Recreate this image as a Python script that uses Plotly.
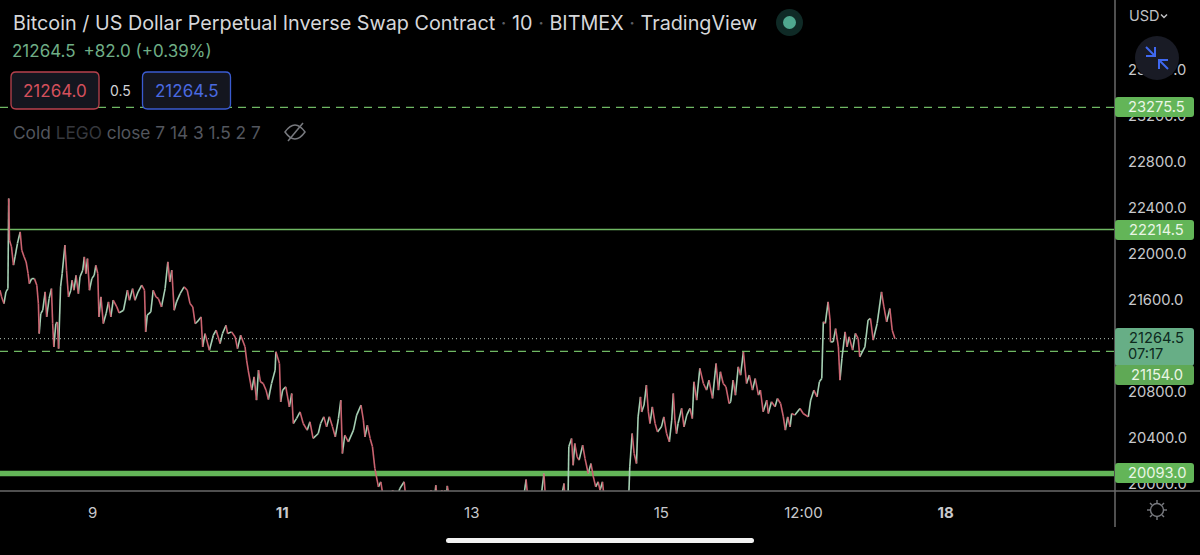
import pandas as pd
import plotly.graph_objects as go

ORIGIN = "2022-07-08 00:00"
# hours since ORIGIN and price
PATH_HOURS = [0.5,0.9,1.5,2.0,2.5,2.7,2.9,3.4,3.9,4.3,4.9,5.6,6.0,6.6,7.1,7.6,7.9,8.5,9.2,9.8,10.2,10.4,10.8,11.3,11.9,12.3,12.9,13.5,13.8,14.1,14.6,15.0,15.3,15.8,16.2,16.9,17.3,17.8,18.4,18.7,19.2,19.7,20.3,20.7,21.4,21.8,22.2,22.6,23.1,23.7,24.3,24.7,25.2,25.5,26.0,26.6,27.3,27.9,28.5,29.1,30.0,30.6,31.7,32.7,33.2,34.0,34.6,35.4,36.3,37.0,37.3,37.7,38.6,39.2,39.9,40.5,41.3,42.2,42.9,43.4,43.9,44.5,45.1,46.0,47.0,47.8,48.5,49.2,49.8,50.3,51.3,51.7,52.3,53.4,54.4,55.1,56.1,56.7,57.6,58.0,59.0,59.9,60.5,61.3,62.4,
62.8,63.2,64.1,64.7,65.3,65.8,66.3,67.0,67.7,68.3,69.1,70.0,70.2,71.1,71.4,71.9,72.7,73.6,74.2,74.6,75.4,76.3,77.1,78.1,78.8,79.6,80.9,81.5,82.3,83.0,83.7,84.5,85.2,86.0,86.6,87.0,87.6,88.5,89.8,90.6,91.7,92.3,92.7,93.3,94.0,94.6,95.2,96.1,96.7,97.3,98.2,99.0,99.7,100.3,101.5,102.6,103.1,104.1,106.6,108.7,109.4,110.0,110.6,111.2,112.1,112.5,112.9,113.2,113.5,114.2,118.0,123.0,129.3,132.7,133.4,133.9,136.9,137.9,138.4,142.0,143.0,143.3,144.0,144.2,144.9,145.3,145.7,146.3,146.8,147.7,148.3,149.1,149.8,150.4,151.0,151.6,152.1,152.7,153.1,154.2,158.4,159.4,159.6,160.2,160.7,161.3,161.7,162.3,162.6,163.2,163.8,164.3,164.7,165.3,166.0,166.6,167.6,168.2,168.9,169.6,170.2,170.6,171.0,171.4,171.8,172.7,173.3,174.0,174.8,175.4,175.8,176.5,177.3,178.2,179.0,179.6,180.5,181.4,182.0,182.5,183.2,183.9,184.7,185.1,185.7,186.3,187.0,187.6,188.3,
189.1,189.8,190.6,191.3,192.1,192.6,193.3,194.2,194.6,195.4,196.3,196.9,197.7,198.4,198.9,199.5,200.1,200.5,201.3,202.6,203.4,204.7,205.3,206.1,206.9,207.5,208.1,208.5,209.0,209.7,210.2,210.3,211.0,211.6,212.3,212.7,213.2,214.0,214.5,215.0,215.9,216.6,217.3,217.7,219.0,219.8,220.4,221.1,222.1,223.2,223.8,224.5,225.3,225.9,226.6]
PATH_PRICES = [21686,21628,21570,21672,21700,22484,22121,22063,21904,21976,22092,22194,22034,21976,21932,21831,21744,21787,21787,21729,21570,21309,21483,21512,21672,21454,21614,21700,21396,21193,21396,21410,21178,21715,21831,22078,21860,21628,21686,21773,21686,21816,21657,21802,21860,21976,21831,21961,21686,21787,21816,21903,21831,21454,21628,21396,21483,21584,21454,21599,21541,21489,21512,21686,21599,21700,21599,21672,21730,21686,21324,21469,21498,21686,21628,21614,21541,21700,21933,21758,21860,21512,21585,21657,21715,21686,21570,21541,21396,21410,21454,21193,21309,21164,21295,21338,21222,21309,21381,21309,21324,21280,21178,21295,21194,
21078,20991,20817,20933,20730,20991,20890,20875,20817,20736,20875,20991,21151,21049,20716,20817,20846,20672,20788,20527,20570,20628,20527,20469,20542,20397,20440,20527,20585,20498,20585,20498,20411,20570,20730,20266,20425,20367,20469,20600,20687,20556,20411,20512,20397,20324,20136,19976,20020,19889,19744,19802,19947,19831,19961,20020,19860,19686,19715,19744,19947,19773,19990,19802,19947,19831,19947,19831,19985,19860,19750,19800,19750,19860,20040,19860,19802,20092,19831,19831,20005,19831,19860,20324,20396,20164,20353,20237,20208,20338,20222,20092,20179,20063,19976,20020,19947,20020,19889,19744,19773,19947,20150,20440,20266,20179,20585,20759,20628,20687,20860,20628,20527,20672,20527,20454,20498,20585,20440,20368,20556,20788,20556,20440,20527,20658,20498,20600,20658,20570,20890,20730,21006,20875,20817,20904,20745,21049,20817,20977,20875,20846,20701,20716,20904,20773,21020,20947,21150,
20875,20948,20817,20918,20774,20817,20629,20730,20614,20716,20672,20744,20701,20585,20469,20585,20498,20614,20600,20658,20614,20585,20730,20817,20759,20890,20919,21411,21397,21585,21426,21237,21237,21353,21194,20904,21093,21324,21194,21281,21165,21310,21266,21107,21194,21426,21440,21252,21397,21672,21542,21411,21527,21339,21264.5]

PRICE_TICKS = [20000,20400,20800,21200,21600,22000,22400,22800,23200,23600]
DATE_TICKS = ["2022-07-09","2022-07-11","2022-07-13","2022-07-15","2022-07-16 12:00","2022-07-18"]
DATE_LABELS = ["9","<b>11</b>","13","15","12:00","<b>18</b>"]
LEVEL_PRICES = [23275.5,22214.5,21154.0,20093.0]
LEVEL_DASHES = ["dash","solid","dash","solid"]
LEVEL_WIDTHS = [1.2,1.5,1.2,5.5]
LAST_PRICE = 21264.5

FONT = "Inter"
W, H = 1200, 555
PW, PH = 1114, 491
LG = "#63b558"
GRID = "#6a6a6a"
TIME_STRETCH = 95 / 94.75

def X(p): return p / PW
def Y(p): return (PH - p) / PH

def rrect(x0, y0, x1, y1, r):
    r2 = r
    def P(a, b): return f"{X(a)},{Y(b)}"
    return (f"M{P(x0+r2,y0)} L{P(x1-r2,y0)} Q{P(x1,y0)} {P(x1,y0+r2)} L{P(x1,y1-r2)} Q{P(x1,y1)} {P(x1-r2,y1)} "
            f"L{P(x0+r2,y1)} Q{P(x0,y1)} {P(x0,y1-r2)} L{P(x0,y0+r2)} Q{P(x0,y0)} {P(x0+r2,y0)} Z")

def polyline(pts):
    return "M" + " L".join(f"{X(a)},{Y(b)}" for a, b in pts)

t0 = pd.Timestamp(ORIGIN)
times = [t0 + pd.Timedelta(hours=h * TIME_STRETCH) for h in PATH_HOURS]
ux, uy, dx, dy = [], [], [], []
for i in range(1, len(times)):
    up = PATH_PRICES[i] >= PATH_PRICES[i-1]
    xs, ys = (ux, uy) if up else (dx, dy)
    xs += [times[i-1], times[i], None]
    ys += [PATH_PRICES[i-1], PATH_PRICES[i], None]

fig = go.Figure()
fig.add_trace(go.Scatter(x=ux, y=uy, mode="lines", line=dict(color="#a5cfb3", width=1.6), hoverinfo="skip", showlegend=False))
fig.add_trace(go.Scatter(x=dx, y=dy, mode="lines", line=dict(color="#c9626f", width=1.6), hoverinfo="skip", showlegend=False))

shapes = []
for price, dash, w in zip(LEVEL_PRICES, LEVEL_DASHES, LEVEL_WIDTHS):
    shapes.append(dict(type="line", xref="paper", x0=0, x1=1, yref="y", y0=price, y1=price,
                       line=dict(color="#6fb863" if w < 2 else LG, width=w, dash="solid" if dash == "solid" else "8px,6px"), layer="below"))
shapes.append(dict(type="line", xref="paper", x0=0, x1=1, yref="y", y0=LAST_PRICE, y1=LAST_PRICE,
                   line=dict(color="#b8c8bc", width=1, dash="1px,3px"), layer="below"))
# frame
shapes.append(dict(type="line", xref="paper", yref="paper", x0=X(1115), x1=X(1115), y0=Y(0), y1=Y(527), line=dict(color=GRID, width=1.5)))
shapes.append(dict(type="line", xref="paper", yref="paper", x0=0, x1=X(1200), y0=Y(491), y1=Y(491), line=dict(color=GRID, width=1.5)))

annos = []
def text(px, py, s, size=15, color="#c8c9cc", anchor="left"):
    annos.append(dict(xref="paper", yref="paper", x=X(px), y=Y(py), text=s, showarrow=False, xanchor=anchor, yanchor="middle",
                      font=dict(family=FONT, size=size, color=color), borderpad=0))

def badge(y0, y1, fill, label, tcolor="#eaf6e6"):
    shapes.append(dict(type="path", xref="paper", yref="paper", path=rrect(1115, y0, 1194, y1, 3), fillcolor=fill, line=dict(width=0)))
    text(1156.5, (y0+y1)/2, label, 14.7, tcolor, "center")

badge(97, 117, LG, "23275.5")
badge(220, 240, LG, "22214.5")
shapes.append(dict(type="path", xref="paper", yref="paper", path=rrect(1115, 328, 1194, 366, 3), fillcolor="#67ae86", line=dict(width=0)))
text(1156.5, 338, "21264.5", 14.7, "#0d2a1e", "center")
text(1127, 354, "07:17", 14.7, "#0d2a1e", "left")
badge(365, 385, "#5fa955", "21154.0")
badge(463, 483, LG, "20093.0")

# header
SEP = "<span style='color:#5c5e64'>·</span>"
text(12, 23, f"Bitcoin / US Dollar Perpetual Inverse Swap Contract {SEP} 10 {SEP} BITMEX {SEP} TradingView", 19.8, "#d6d7da")
text(11, 51, "21264.5&#8201; +82.0 (+0.39%)", 17, "#6fae86")
shapes.append(dict(type="path", xref="paper", yref="paper", path=rrect(11, 72, 99, 109, 5), fillcolor="#14161f", line=dict(color="#b8424d", width=1.3)))
shapes.append(dict(type="path", xref="paper", yref="paper", path=rrect(142.5, 72, 230.5, 109, 5), fillcolor="#14161f", line=dict(color="#3a5bd0", width=1.3)))
text(55, 91, "21264.0", 17, "#d4505c", "center")
text(120, 91, "0.5", 14, "#d2d3d6", "center")
text(186.5, 91, "21264.5", 17, "#4a6ae0", "center")
text(12, 132, "Cold <span style='color:#36383e'>LEGO</span> close 7 14 3 1.5 2 7", 17.3, "#53565e")

# status dot
shapes.append(dict(type="circle", xref="paper", yref="paper", x0=X(776), x1=X(803), y0=Y(9), y1=Y(36), fillcolor="#0f2a26", line=dict(width=0)))
shapes.append(dict(type="circle", xref="paper", yref="paper", x0=X(783), x1=X(796), y0=Y(16), y1=Y(29), fillcolor="#4fa88f", line=dict(width=0)))

# crossed-out eye
eye = (f"M{X(285)},{Y(132)} Q{X(295)},{Y(118)} {X(305)},{Y(132)} Q{X(295)},{Y(146)} {X(285)},{Y(132)} Z")
shapes.append(dict(type="path", xref="paper", yref="paper", path=eye, line=dict(color="#77797e", width=1.5)))
shapes.append(dict(type="path", xref="paper", yref="paper", path=polyline([(288, 141), (303, 123)]), line=dict(color="#77797e", width=1.5)))

# top-right controls
text(1128, 16, "USD", 14.5, "#c0c1c4")
shapes.append(dict(type="path", xref="paper", yref="paper", path=polyline([(1161, 14.5), (1164, 17.5), (1167, 14.5)]), line=dict(color="#c0c1c4", width=1.5)))
shapes.append(dict(type="circle", xref="paper", yref="paper", x0=X(1135), x1=X(1179), y0=Y(36), y1=Y(80), fillcolor="#191b25", line=dict(width=0)))
BL = "#3f68f0"
for pts in ([(1146, 47), (1155, 56)], [(1146, 56), (1155, 56), (1155, 47)], [(1168, 69), (1159, 60)], [(1168, 60), (1159, 60), (1159, 69)]):
    shapes.append(dict(type="path", xref="paper", yref="paper", path=polyline(pts), line=dict(color=BL, width=2)))

# settings gear
shapes.append(dict(type="circle", xref="paper", yref="paper", x0=X(1150.5), x1=X(1163.5), y0=Y(503.5), y1=Y(516.5), line=dict(color="#77797e", width=1.4)))
for a, b, c, d in [(1157,500,1157,503),(1157,517,1157,520),(1147,510,1150,510),(1164,510,1167,510),(1150,503,1152,505),(1162,515,1164,517),(1150,517,1152,515),(1162,505,1164,503)]:
    shapes.append(dict(type="path", xref="paper", yref="paper", path=polyline([(a, b), (c, d)]), line=dict(color="#77797e", width=1.4)))

# home indicator
shapes.append(dict(type="path", xref="paper", yref="paper", path=rrect(446, 538, 754, 543, 2.5), fillcolor="#f2f2f2", line=dict(width=0)))

fig.update_layout(
    width=W, height=H, autosize=False, paper_bgcolor="#000000", plot_bgcolor="#000000",
    margin=dict(l=0, r=W-PW, t=0, b=H-PH), showlegend=False, shapes=shapes, annotations=annos,
    font=dict(family=FONT),
    xaxis=dict(range=[t0 + pd.Timedelta(hours=0.5), t0 + pd.Timedelta(hours=0.5 + PW * 24 / 94.75)], type="date",
               tickmode="array", tickvals=DATE_TICKS, ticktext=DATE_LABELS, showgrid=False, zeroline=False,
               ticks="outside", ticklen=8, tickcolor="rgba(0,0,0,0)", tickfont=dict(family=FONT, size=15, color="#c8c9cc"), showline=False),
    yaxis=dict(side="right", range=[19940, 24210], tickmode="array", tickvals=PRICE_TICKS,
               ticktext=[f"{v:.1f}" for v in PRICE_TICKS], showgrid=False, zeroline=False,
               ticks="outside", ticklen=10, tickcolor="rgba(0,0,0,0)", tickfont=dict(family=FONT, size=14.7, color="#c8c9cc"), showline=False),
)
fig.write_html("out.html", config=dict(displayModeBar=False),
               post_script="document.body.style.margin='0';document.body.style.background='#000';document.body.style.overflow='hidden';")
